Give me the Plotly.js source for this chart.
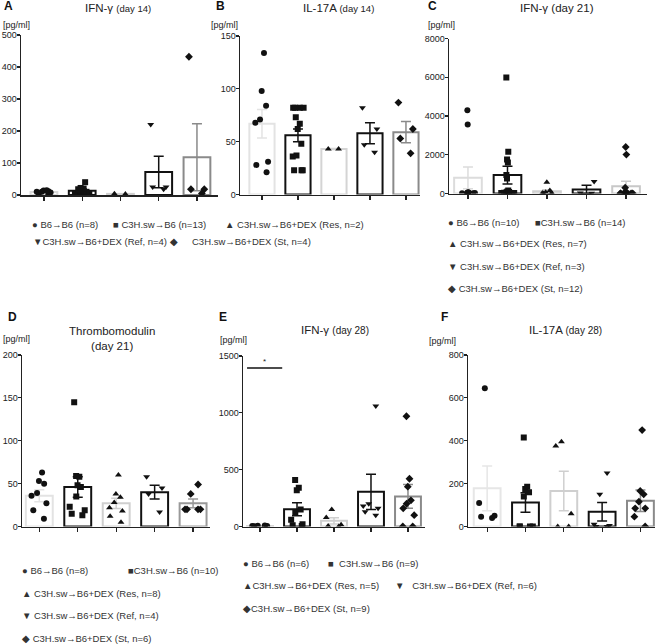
<!DOCTYPE html>
<html><head><meta charset="utf-8">
<script src="https://cdn.plot.ly/plotly-3.0.1.min.js"></script>
<style>body{margin:0;background:#fff}#chart{width:660px;height:644px}</style>
</head><body><div id="chart"></div><script>
// ---------- DATA ----------
const groups = ['B6→B6','C3H.sw→B6','C3H.sw→B6+DEX (Res)','C3H.sw→B6+DEX (Ref)','C3H.sw→B6+DEX (St)'];
const symbols = ['circle','square','triangle-up','triangle-down','diamond'];

// A: IFN-γ (day 14)
const A_points = [[8,10,12,14,5,3,15,10],[40,22,20,18,15,12,10,8,5,3,2,10,5],[3,4],[220,25,18,25],[432,18,5,18]];
const A_mean = [9,13,3.5,72,118];
const A_sem  = [2,3,0.5,49,105];
// B: IL-17A (day 14)
const B_points = [[134,98,84,71,68,31,28,21],[82,82,82,82,73,67,62,48,37,36,23,23,23],[43,43],[82,47,40,62],[87,62,53,39]];
const B_mean = [67,56,43,58,59];
const B_sem  = [13.5,6,0.5,10,10];
// C: IFN-γ (day 21)
const C_points = [[4300,3560,60,40,30,20,50,20,10,10],[5990,2150,1750,1600,950,780,150,100,80,60,40,30,20,10],[580,150,60,20,10,5,0],[620,20,10],[2400,2010,300,100,50,40,30,20,10,10,5,5]];
const C_mean = [810,950,120,210,380];
const C_sem  = [560,460,80,210,250];
// D: Thrombomodulin (day 21)
const D_points = [[63,53,50,39,36,27,19,9],[145,59,58,48,46,35,23,19,15,13],[60,38,34,28,22,18,12,5],[58,45,38,17],[49,38,20,20,20,20]];
const D_mean = [36,46,27,40,27];
const D_sem  = [7,12,6,8,5];
// E: IFN-γ (day 28)
const E_points = [[5,3,8,2,4,6],[410,340,320,150,120,60,20,10,5],[150,80,15,5,0],[1060,200,180,160,130,100],[970,420,350,230,200,160,100,0,0]];
const E_mean = [5,152,50,305,265];
const E_sem  = [1,57,28,155,105];
const E_sigLevel = 1395;
// F: IL-17A (day 28)
const F_points = [[645,110,45,40,50],[415,185,175,160,140,0,0,0,0],[395,375,60,0,0],[250,150,10,5,0,0],[450,166,150,116,85,85,46,0]];
const F_mean = [178,112,166,69,120];
const F_sem  = [104,45,92,43,50];

const titles = ['IFN-γ <span style="font-size:9.5px">(day 14)</span>','IL-17A <span style="font-size:9.5px">(day 14)</span>','IFN-γ (day 21)','Thrombomodulin<br>(day 21)','IFN-γ <span style="font-size:10px">(day 28)</span>','IL-17A <span style="font-size:10px">(day 28)</span>'];
const letters = ['A','B','C','D','E','F'];
const unitLabel = '[pg/ml]';
const legendA = ['● B6→B6 (n=8)','■ C3H.sw→B6 (n=13)','▲ C3H.sw→B6+DEX (Res, n=2)','▼C3H.sw→B6+DEX (Ref, n=4) ◆','C3H.sw→B6+DEX (St, n=4)'];
const legendC = ['● B6→B6 (n=10)','■C3H.sw→B6 (n=14)','▲ C3H.sw→B6+DEX (Res, n=7)','▼ C3H.sw→B6+DEX (Ref, n=3)','◆ C3H.sw→B6+DEX (St, n=12)'];
const legendD = ['● B6→B6 (n=8)','■C3H.sw→B6 (n=10)','▲ C3H.sw→B6+DEX (Res, n=8)','▼ C3H.sw→B6+DEX (Ref, n=4)','◆ C3H.sw→B6+DEX (St, n=6)'];
const legendE = ['● B6→B6 (n=6)','■  C3H.sw→B6 (n=9)','▲C3H.sw→B6+DEX (Res, n=5)','▼   C3H.sw→B6+DEX (Ref, n=6)','◆C3H.sw→B6+DEX (St, n=9)'];

// ---------- LAYOUT ----------
const W=660,H=644;
const fx = p => p/W, fy = p => 1 - p/H;
const FONT = 'Liberation Sans, Arial, sans-serif';
const panels = [
 {pts:A_points, mean:A_mean, sem:A_sem, ymax:500,  dtick:100,  px:[21,218],  py:[195,35],    xr:[-0.6,4.55],  col:['#dadada','#111','#d0d0d0','#111','#8a8a8a']},
 {pts:B_points, mean:B_mean, sem:B_sem, ymax:150,  dtick:50,   px:[240,420], py:[194.5,36],  xr:[-0.61,4.39], col:['#e3e3e3','#111','#d4d4d4','#111','#8a8a8a']},
 {pts:C_points, mean:C_mean, sem:C_sem, ymax:8000, dtick:2000, px:[449,647], py:[193.5,38.5],xr:[-0.48,4.53], col:['#dcdcdc','#111','#d0d0d0','#111','#c8c8c8']},
 {pts:D_points, mean:D_mean, sem:D_sem, ymax:200,  dtick:50,   px:[22,210],  py:[526.5,355], xr:[-0.45,4.44], col:['#e3e3e3','#111','#cfcfcf','#111','#999999']},
 {pts:E_points, mean:E_mean, sem:E_sem, ymax:1500, dtick:500,  px:[243,425], py:[526.5,356], xr:[-0.46,4.46], col:['#d8d8d8','#111','#cfcfcf','#111','#8a8a8a']},
 {pts:F_points, mean:F_mean, sem:F_sem, ymax:800,  dtick:200,  px:[468,655], py:[526.5,355], xr:[-0.5,4.38],  col:['#e6e6e6','#111','#cfcfcf','#111','#8a8a8a']}
];

const traces=[]; const pointTraces=[];
const layout = {width:W,height:H,margin:{l:0,r:0,t:0,b:0},paper_bgcolor:'#fff',plot_bgcolor:'rgba(0,0,0,0)',
  showlegend:false,barmode:'overlay',boxmode:'overlay',font:{family:FONT,color:'#222',size:10},annotations:[],shapes:[]};

panels.forEach((p,i)=>{
  const s = i===0?'':String(i+1);
  const xa='x'+s, ya='y'+s;
  layout['xaxis'+s] = {domain:[fx(p.px[0]),fx(p.px[1])], range:p.xr, anchor:ya, showline:true, linecolor:'#222', linewidth:1.5,
    ticks:'outside', ticklen:4, tickwidth:1.2, tickcolor:'#222', tickvals:[0,1,2,3,4], showticklabels:false, showgrid:false, zeroline:false, fixedrange:true};
  layout['yaxis'+s] = {domain:[fy(p.py[0]),fy(p.py[1])], range:[0,p.ymax], anchor:xa, showline:true, linecolor:'#222', linewidth:1.5,
    ticks:'outside', ticklen:3, tickwidth:1.2, tickcolor:'#222', dtick:p.dtick, tick0:0, ticklabelstandoff:-2,
    tickfont:{family:FONT,size:9,color:'#222'}, showgrid:false, zeroline:false, fixedrange:true};
  for(let g=0;g<5;g++){
    traces.push({type:'bar', x:[g], y:[p.mean[g]], width:0.7, xaxis:xa, yaxis:ya, hoverinfo:'skip',
      marker:{color:'#ffffff', line:{color:p.col[g], width:2}},
      error_y:{type:'data', array:[p.sem[g]], visible:true, color:p.col[g], thickness:1.5, width:5}});
    pointTraces.push({type:'box', x:p.pts[g].map(()=>g), y:p.pts[g], xaxis:xa, yaxis:ya, boxpoints:'all', jitter:0.9, pointpos:0, width:0.55,
      fillcolor:'rgba(0,0,0,0)', line:{width:0,color:'rgba(0,0,0,0)'}, whiskerwidth:0, hoverinfo:'skip',
      marker:{symbol:symbols[g], size:6, color:'#111', line:{width:0}}});
  }
});

// significance bar in E
layout.shapes.push({type:'line', xref:'x5', yref:'y5', x0:-0.35, x1:0.6, y0:E_sigLevel, y1:E_sigLevel, line:{color:'#111', width:1.5}});
layout.annotations.push({xref:'x5', yref:'y5', x:0.12, y:E_sigLevel, yanchor:'bottom', text:'*', showarrow:false, font:{size:8,color:'#222'}});

function ann(text,x,y,opt){ layout.annotations.push(Object.assign({xref:'paper',yref:'paper',x:fx(x),y:fy(y),text:text,showarrow:false,xanchor:'center',yanchor:'middle',font:{family:FONT,size:10.5,color:'#222'}},opt||{})); }

// titles
const titlePos = [[118,8],[338,8],[557,8],[112,338],[335,330],[565,330]];
titles.forEach((t,i)=>ann(t,titlePos[i][0],titlePos[i][1],{font:{family:FONT,size:11.5,color:'#222'}}));
// letters
const letterPos = [[8,6],[220,6],[433,6],[12,317],[223,317],[445,317]];
letters.forEach((t,i)=>ann('<b>'+t+'</b>',letterPos[i][0],letterPos[i][1],{font:{family:FONT,size:12,color:'#111'}}));
// units
const unitPos = [[16,25],[225,25],[441,25],[16,339],[233,340],[442,341]];
unitPos.forEach(u=>ann(unitLabel,u[0],u[1],{font:{family:FONT,size:9,color:'#222'}}));

// legends
function leg(arr,pos){ arr.forEach((t,i)=>ann(t,pos[i][0],pos[i][1],{xanchor:'left',font:{family:FONT,size:9.5,color:'#333'}})); }
leg(legendA,[[30,224],[111,224],[223,224],[31,241],[190,241]]);
leg(legendC,[[446,222],[533,222],[446,244],[446,266],[446,288]]);
leg(legendD,[[20,570],[126,570],[20,593],[20,615],[20,638]]);
leg(legendE,[[241,563],[326,563],[241,585],[393,585],[241,608]]);

Plotly.newPlot('chart', traces.concat(pointTraces), layout, {staticPlot:true});
</script></body></html>
